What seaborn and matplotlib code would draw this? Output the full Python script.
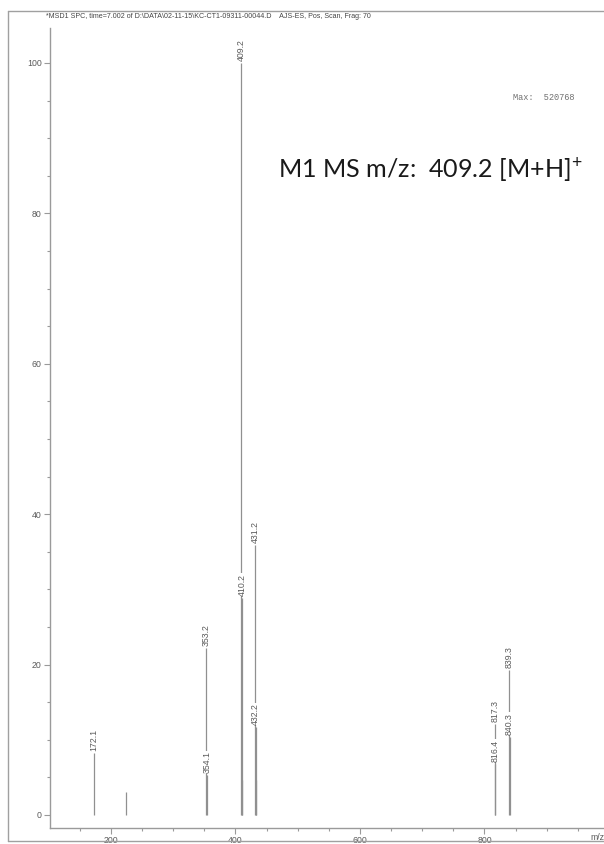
import matplotlib
matplotlib.use("Agg")
import matplotlib.pyplot as plt
from matplotlib.lines import Line2D
from matplotlib.ticker import MultipleLocator
import seaborn as sns

# Spectrum peaks (m/z, relative abundance %)
labeled_mz = [172.1, 353.2, 354.1, 409.2, 410.2, 431.2, 432.2, 816.4, 817.3, 839.3, 840.3]
labeled_int = [8.2, 22.2, 5.3, 100.0, 28.9, 35.9, 11.7, 6.8, 12.1, 19.3, 10.4]
minor_mz = [224.0, 411.2, 433.2]
minor_int = [3.1, 4.6, 4.6]

x_ticks = [200, 400, 600, 800]
y_ticks = [0, 20, 40, 60, 80, 100]

header = ("*MSD1 SPC, time=7.002 of D:\\DATA\\02-11-15\\KC-CT1-09311-00044.D    "
          "AJS-ES, Pos, Scan, Frag: 70")
max_note = "Max:  520768"
annotation = "M1 MS m/z:  409.2 [M+H]$^{+}$"

sns.set_theme(style="white")
plt.rcParams["font.family"] = ["Liberation Sans", "DejaVu Sans"]
plt.rcParams["mathtext.fontset"] = "custom"
plt.rcParams["mathtext.rm"] = "Lato"
plt.rcParams["mathtext.it"] = "Lato"
plt.rcParams["mathtext.bf"] = "Lato"

W, H = 604, 844
fig = plt.figure(figsize=(W / 100, H / 100), dpi=100)
fig.patch.set_facecolor("white")

ax = fig.add_axes([50 / W, (H - 828) / H, (W - 50) / W, (828 - 28) / H])
ax.set_xlim(102, 992)
ax.set_ylim(-1.73, 104.65)

line_col = "#909090"
text_col = "#5a5a5a"

all_mz = labeled_mz + minor_mz
all_int = labeled_int + minor_int
ax.vlines(all_mz, 0, all_int, colors=line_col, linewidth=0.9, zorder=2)

for mz, val in zip(labeled_mz, labeled_int):
    ax.annotate(f"{mz:.1f}", xy=(mz, val), xytext=(0, 1.5), textcoords="offset points",
                rotation=90, ha="center", va="bottom", fontsize=6.3, color=text_col,
                bbox=dict(boxstyle="square,pad=0.05", fc="white", ec="none"), zorder=3)

for side in ("top", "right"):
    ax.spines[side].set_visible(False)
for side in ("left", "bottom"):
    ax.spines[side].set_color("#9a9a9a")
    ax.spines[side].set_linewidth(1.0)

ax.set_xticks(x_ticks)
ax.set_yticks(y_ticks)
ax.xaxis.set_minor_locator(MultipleLocator(50))
ax.yaxis.set_minor_locator(MultipleLocator(5))
ax.tick_params(which="both", direction="out", color="#9a9a9a", width=0.8,
               labelsize=6.3, labelcolor=text_col, bottom=True, left=True)
ax.tick_params(which="major", length=4, pad=2)
ax.tick_params(which="minor", length=2.5)
ax.grid(False)

fig.text(597 / W, 1 - 838 / H, "m/z", fontsize=6.3, color=text_col, ha="center", va="center")

# page frame
fig.add_artist(Line2D([8 / W, 8 / W], [1 - 11 / H, 1 - 841 / H], color="#a0a0a0", lw=1.0))
fig.add_artist(Line2D([8 / W, 1.0], [1 - 11 / H, 1 - 11 / H], color="#a0a0a0", lw=1.0))
fig.add_artist(Line2D([8 / W, 1.0], [1 - 841 / H, 1 - 841 / H], color="#a0a0a0", lw=1.0))

fig.text(46 / W, 1 - 16 / H, header, fontsize=5.15, color="#444444", ha="left", va="center")
fig.text(513 / W, 1 - 97 / H, max_note, fontsize=6.2, color="#707070",
         family=["Liberation Mono", "DejaVu Sans Mono"], ha="left", va="center")
fig.text(278 / W, 1 - 178 / H, annotation, fontsize=18.1, color="#1a1a1a",
         family=["Lato", "DejaVu Sans"], ha="left", va="baseline")

fig.savefig("out.png", dpi=100, facecolor="white")
